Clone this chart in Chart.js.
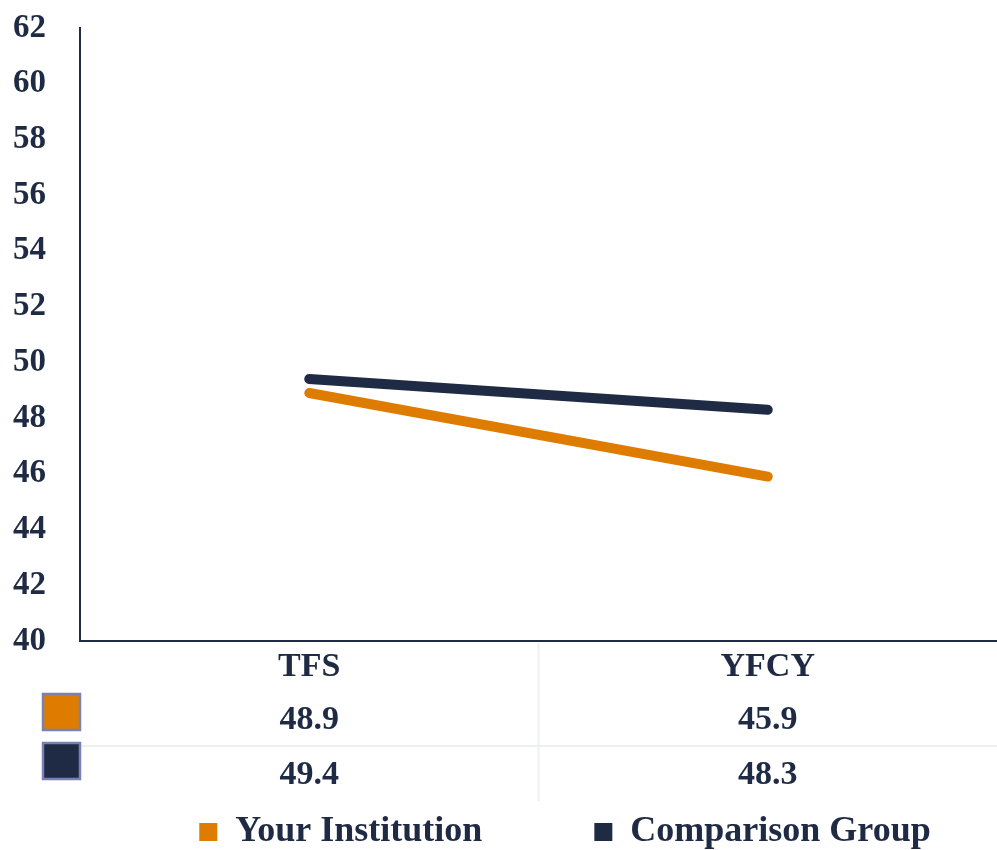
<!DOCTYPE html>
<html>
<head>
<meta charset="utf-8">
<script src="https://cdn.jsdelivr.net/npm/chart.js@4"></script>
<style>
  html, body { margin: 0; padding: 0; background: #fff; overflow: hidden; }
  #wrap { width: 997px; height: 850px; position: relative; }
</style>
</head>
<body>
<div id="wrap"><canvas id="chart"></canvas></div>
<script>
// --- Data ---
const categories = ["TFS", "YFCY"];
const yourInstitution = [48.9, 45.9];
const comparisonGroup = [49.4, 48.3];
const seriesNames = ["Your Institution", "Comparison Group"];
const yMin = 40, yMax = 62, yStep = 2;

const NAVY = "#1f2a44";
const ORANGE = "#de7c00";
const FONT = "'Liberation Serif', 'DejaVu Serif', serif";

// Data table drawn under the x axis, positioned from the x scale
const dataTable = {
	id: "dataTable",
	afterLayout(chart) {
		// legend in the original is centred a bit right of the page and sits low
		const lg = chart.legend;
		if (lg) {
			const shift = 565 - (lg.left + lg.right) / 2;
			lg.left += shift;
			lg.right += shift;
			lg.top += 10;
		}
	},
	afterDraw(chart) {
		const ctx = chart.ctx;
		const x = chart.scales.x;
		const area = chart.chartArea;
		const rowTop = area.bottom + 52;

		ctx.save();
		// light grid lines of the table
		ctx.strokeStyle = "#eeeff2";
		ctx.lineWidth = 2;
		const mid = (x.getPixelForValue(0) + x.getPixelForValue(1)) / 2;
		ctx.beginPath();
		ctx.moveTo(mid, area.bottom + 2);
		ctx.lineTo(mid, rowTop + 108);
		ctx.moveTo(area.left, rowTop + 53);
		ctx.lineTo(area.right, rowTop + 53);
		ctx.stroke();

		ctx.font = "bold 34px " + FONT;
		ctx.textAlign = "center";
		ctx.textBaseline = "middle";
		const keyTops = [rowTop + 1, rowTop + 50];
		chart.data.datasets.forEach((ds, r) => {
			const cy = rowTop + 27 + r * 55;
			ctx.fillStyle = NAVY;
			ds.data.forEach((v, i) => {
				ctx.fillText(v.toFixed(1), x.getPixelForValue(i), cy);
			});
			// legend key
			ctx.fillStyle = ds.borderColor;
			ctx.fillRect(43, keyTops[r], 37, 36);
			ctx.strokeStyle = "#7880b4";
			ctx.lineWidth = 2.5;
			ctx.strokeRect(43, keyTops[r], 37, 36);
		});
		ctx.restore();
	}
};

new Chart(document.getElementById("chart"), {
	type: "line",
	data: {
		labels: categories,
		datasets: [
			{
				label: seriesNames[0],
				data: yourInstitution,
				borderColor: ORANGE,
				backgroundColor: ORANGE,
				borderWidth: 10,
				borderCapStyle: "round",
				pointRadius: 0
			},
			{
				label: seriesNames[1],
				data: comparisonGroup,
				borderColor: NAVY,
				backgroundColor: NAVY,
				borderWidth: 10,
				borderCapStyle: "round",
				pointRadius: 0
			}
		]
	},
	options: {
		responsive: true,
		maintainAspectRatio: false,
		animation: false,
		layout: { padding: { top: 28, right: 0, left: 13, bottom: 0 } },
		scales: {
			x: {
				offset: true,
				grid: { display: false, drawTicks: false },
				border: { color: NAVY, width: 2 },
				ticks: {
					color: NAVY,
					padding: 6,
					font: { family: FONT, size: 34, weight: "bold" }
				},
				afterFit(scale) { scale.height = 51; }
			},
			y: {
				min: yMin,
				max: yMax,
				grid: { display: false, drawTicks: false },
				border: { color: NAVY, width: 2 },
				ticks: {
					stepSize: yStep,
					color: NAVY,
					padding: 0,
					crossAlign: "far",
					font: { family: FONT, size: 33, weight: "bold" }
				},
				afterFit(scale) { scale.width = 67; }
			}
		},
		plugins: {
			tooltip: { enabled: false },
			legend: {
				position: "bottom",
				labels: {
					color: NAVY,
					padding: 112,
					boxWidth: 18,
					boxHeight: 18,
					font: { family: FONT, size: 36, weight: "bold" },
					generateLabels(chart) {
						return Chart.defaults.plugins.legend.labels.generateLabels(chart)
							.map(item => Object.assign(item, { lineWidth: 0 }));
					}
				}
			}
		}
	},
	plugins: [dataTable]
});
</script>
</body>
</html>
